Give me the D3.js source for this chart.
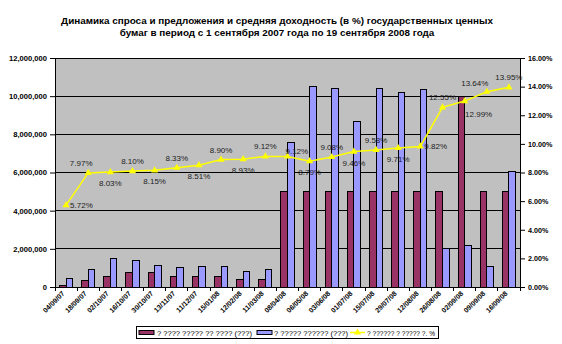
<!DOCTYPE html>
<html><head><meta charset="utf-8">
<script src="https://cdn.jsdelivr.net/npm/d3@7/dist/d3.min.js"></script>
<style>body{margin:0;background:#fff}svg{display:block}text{font-family:"Liberation Sans",Arial,sans-serif}</style>
</head><body><svg id="c" width="562" height="344"></svg>
<script>
const titleLines = ["Динамика спроса и предложения и средняя доходность (в %)  государственных ценных",
                    "бумаг в период с 1 сентября 2007 года по 19 сентября 2008 года"];
const categories = ["04/09/07","18/09/07","02/10/07","16/10/07","30/10/07","13/11/07","11/12/07",
                    "15/01/08","12/02/08","11/03/08","08/04/08","06/05/08","03/06/08","01/07/08",
                    "15/07/08","29/07/08","12/08/08","26/08/08","02/09/08","09/09/08","16/09/08"];
const offer  = [90000,320000,530000,740000,740000,530000,530000,530000,370000,370000,
                5000000,5000000,5000000,5000000,5000000,5000000,5000000,5000000,10000000,5000000,5000000];
const demand = [470000,900000,1470000,1370000,1150000,1000000,1050000,1050000,790000,900000,
                7570000,10500000,10400000,8650000,10400000,10200000,10330000,2030000,2200000,1050000,6050000];
const yieldPct = [5.72,7.97,8.03,8.10,8.15,8.33,8.51,8.90,8.93,9.12,9.12,8.79,9.08,9.46,9.58,9.71,9.82,12.55,12.99,13.64,13.95];
const yieldLabelPos = ["right","above","below","above","below","above","below","above","below","above",
                       "rightup","below","above","below","above","below","right","above","belowright","aboveleft","above"];
const leftTicks = [0,2000000,4000000,6000000,8000000,10000000,12000000];
const rightTicks = [0,2,4,6,8,10,12,14,16];
const legendLabels = ["? ????  ????? ?? ???? (???)","? ????? ?????? (???)","? ?????? ? ????? ?. %"];

const svg = d3.select("#c");
const L = 55, R = 520, T = 58, B = 287;
const x = d3.scaleBand().domain(categories).range([L, R]);
const xs = d3.scaleBand().domain(["offer","demand"]).range([0, x.bandwidth()]).paddingOuter(0.7);
const yL = d3.scaleLinear().domain([0,12000000]).range([B, T]);
const yR = d3.scaleLinear().domain([0,16]).range([B, T]);

// title
svg.append("g").selectAll("text").data(titleLines).join("text")
  .attr("x", 277).attr("y", (d,i)=>23.5 + i*12.5).attr("text-anchor","middle")
  .attr("font-size", 9.9).attr("font-weight","bold").text(d=>d);

// plot background
svg.append("rect").attr("x",L).attr("y",T).attr("width",R-L).attr("height",B-T).attr("fill","#c0c0c0");

// gridlines
svg.append("g").selectAll("line").data(leftTicks.slice(1)).join("line")
  .attr("x1",L).attr("x2",R).attr("y1",d=>yL(d)).attr("y2",d=>yL(d))
  .attr("stroke","#000").attr("stroke-width",1).attr("shape-rendering","crispEdges");

// bars
const bars = svg.append("g");
bars.selectAll("rect.o").data(offer).join("rect").attr("class","o")
  .attr("x",(d,i)=>x(categories[i])+xs("offer")).attr("width",xs.bandwidth())
  .attr("y",d=>yL(d)).attr("height",d=>B-yL(d))
  .attr("fill","#993366").attr("stroke","#000").attr("stroke-width",1).attr("shape-rendering","crispEdges");
bars.selectAll("rect.d").data(demand).join("rect").attr("class","d")
  .attr("x",(d,i)=>x(categories[i])+xs("demand")).attr("width",xs.bandwidth())
  .attr("y",d=>yL(d)).attr("height",d=>B-yL(d))
  .attr("fill","#9999ff").attr("stroke","#000").attr("stroke-width",1).attr("shape-rendering","crispEdges");

// axes
const axL = d3.axisLeft(yL).tickValues(leftTicks).tickSize(5).tickPadding(3).tickFormat(d3.format(",.0f"));
const gL = svg.append("g").attr("transform",`translate(${L},0)`).call(axL);
const axR = d3.axisRight(yR).tickValues(rightTicks).tickSize(5).tickPadding(3).tickFormat(d=>d3.format(".2f")(d)+"%");
const gR = svg.append("g").attr("transform",`translate(${R},0)`).call(axR);
const axB = d3.axisBottom(x).tickSize(0).tickFormat("");
const gB = svg.append("g").attr("transform",`translate(0,${B})`).call(axB);
[gL,gR,gB].forEach(g=>{g.select(".domain").attr("stroke","#000");g.selectAll(".tick line").attr("stroke","#000");});
gL.selectAll("text").attr("font-size",7.6).attr("font-weight","bold").attr("font-family","Liberation Sans, Arial");
gR.selectAll("text").attr("font-size",7.2).attr("font-weight","bold").attr("font-family","Liberation Sans, Arial");
// x tick marks at boundaries
svg.append("g").selectAll("line").data(categories.concat(["end"])).join("line")
  .attr("x1",(d,i)=>L+i*x.step()).attr("x2",(d,i)=>L+i*x.step())
  .attr("y1",B).attr("y2",B+4).attr("stroke","#000").attr("shape-rendering","crispEdges");
// x labels
svg.append("g").selectAll("text").data(categories).join("text")
  .attr("transform",d=>`translate(${x(d)+x.bandwidth()/2-1},${B+7}) rotate(-45)`)
  .attr("text-anchor","end").attr("font-size",7).attr("font-weight","bold").text(d=>d);

// line
const cx = (i)=>x(categories[i])+x.bandwidth()/2;
svg.append("path").datum(yieldPct)
  .attr("d", d3.line().x((d,i)=>cx(i)).y(d=>yR(d)))
  .attr("fill","none").attr("stroke","#ffff00").attr("stroke-width",1.5);
svg.append("g").selectAll("path").data(yieldPct).join("path")
  .attr("transform",(d,i)=>`translate(${cx(i)},${yR(d)})`)
  .attr("d", d3.symbol(d3.symbolTriangle, 22)).attr("fill","#ffff00");

// data labels
const off = {above:[0,-7,"middle"], below:[0,14,"middle"], right:[4,3,"start"], rightup:[-2,-2,"start"],
             belowright:[14,16,"middle"], aboveleft:[-12,-6,"middle"]};
svg.append("g").selectAll("text").data(yieldPct).join("text")
  .attr("x",(d,i)=>cx(i)+off[yieldLabelPos[i]][0] + (i===1?-7:0))
  .attr("y",(d,i)=>yR(d)+off[yieldLabelPos[i]][1])
  .attr("text-anchor",(d,i)=>off[yieldLabelPos[i]][2])
  .attr("font-size",8).attr("fill","#222").text(d=>d.toFixed(2)+"%");

// legend
const lg = svg.append("g");
lg.append("rect").attr("x",136.5).attr("y",326.5).attr("width",302).attr("height",12)
  .attr("fill","#fff").attr("stroke","#000");
const swX = [139,257,350], txX = [157,274,367], txW = [95,74,68];
lg.append("rect").attr("x",swX[0]).attr("y",330.5).attr("width",15).attr("height",4).attr("fill","#993366").attr("stroke","#000");
lg.append("rect").attr("x",swX[1]).attr("y",330.5).attr("width",15).attr("height",4).attr("fill","#9999ff").attr("stroke","#000");
lg.append("line").attr("x1",swX[2]).attr("x2",swX[2]+15).attr("y1",332.5).attr("y2",332.5).attr("stroke","#ffff00").attr("stroke-width",1.5);
lg.append("path").attr("transform",`translate(${swX[2]+7.5},332.5)`).attr("d",d3.symbol(d3.symbolTriangle,22)).attr("fill","#ffff00");
lg.selectAll("text").data(legendLabels).join("text")
  .attr("x",(d,i)=>txX[i]).attr("y",335.5).attr("font-size",8).attr("fill","#000")
  .attr("textLength",(d,i)=>txW[i]).attr("lengthAdjust","spacingAndGlyphs").text(d=>d);
</script></body></html>
